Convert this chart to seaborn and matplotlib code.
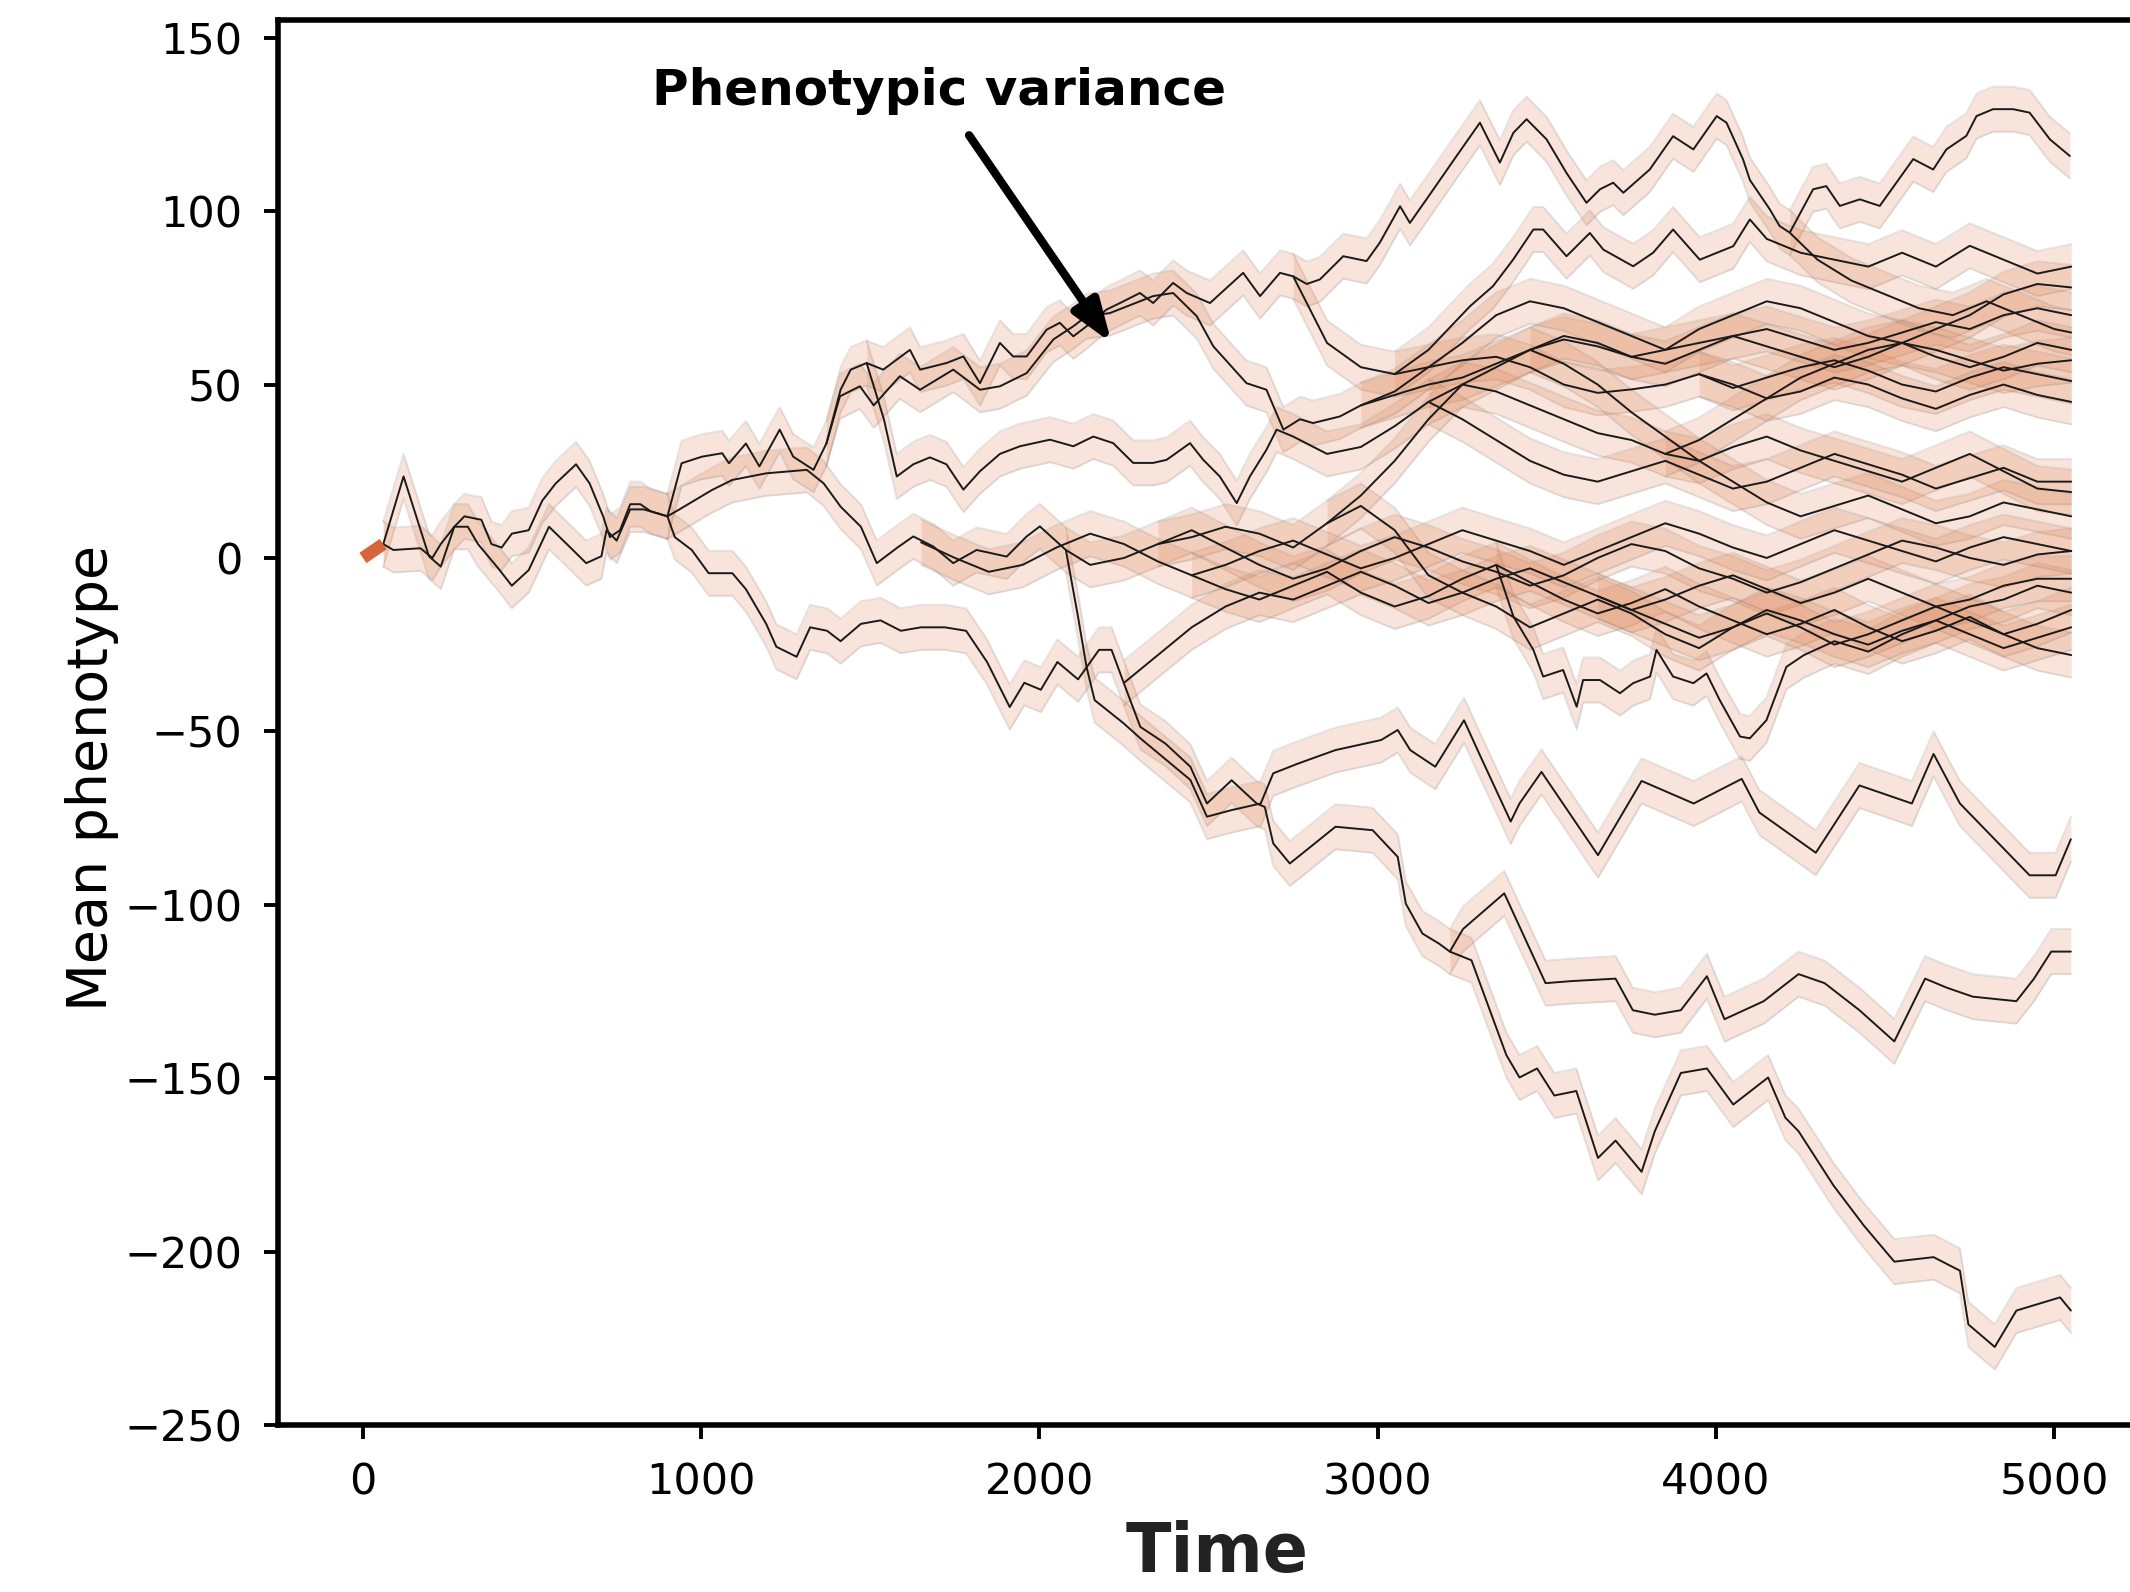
import numpy as np
import pandas as pd
import matplotlib
matplotlib.use('Agg')
import matplotlib.pyplot as plt
import seaborn as sns

# lineages of mean phenotype through time
# explicit (time, value) lists for lineages with sharp features
root_t = [0, 30, 60]
root_v = [0, 2, 4]

a_t = [60, 120, 195, 230, 270, 300, 350, 380, 410, 440, 490, 530, 570, 630, 670, 710, 730, 760, 790, 820, 850, 900]
a_v = [4, 23.5, 0.5, -2.5, 9, 12, 11, 4, 3, 7, 8, 16.5, 21.5, 27, 21.5, 12, 6, 8, 15.5, 15.5, 13.5, 12]

b_t = [60, 90, 170, 205, 230, 270, 310, 340, 370, 400, 440, 490, 550, 610, 660, 705, 720, 750, 790, 830, 900]
b_v = [4, 2.3, 2.8, 0, 4, 9, 9, 4, 0.5, -3, -8, -3.5, 9, 3.3, -1.5, 0.5, 8, 5, 14, 14, 12]

low_t = [900, 922, 972, 1022, 1092, 1132, 1192, 1222, 1282, 1322, 1372, 1412, 1472, 1530, 1590, 1650, 1720,
         1783, 1845, 1912, 1955, 2004, 2053, 2114, 2176, 2213, 2249, 2298, 2372, 2446, 2495, 2568, 2642, 2666,
         2691, 2740, 2814, 2875, 2985, 3059, 3083, 3132, 3181, 3213, 3252, 3374, 3496, 3574, 3703, 3754, 3819,
         3896, 3973, 4025, 4141, 4244, 4321, 4424, 4527, 4618, 4682, 4759, 4888, 4940, 4991, 5049]
low_v = [12, 6, 2.3, -4.4, -4.4, -9, -19, -25.6, -28.5, -20, -21, -24, -19, -18, -21, -20, -20,
         -21, -30, -43, -36, -38, -30, -35, -26.5, -26.5, -36, -48.7, -53.5, -60.2, -70.8, -64.1, -70.8, -71.8,
         -82.3, -88.1, -82.3, -77.5, -78.5, -86.2, -99.7, -108.3, -111.2, -113.5, -107, -96.7, -122.6, -122,
         -121.3, -130.4, -131.7, -130.4, -120.6, -133, -127.8, -120, -122.6, -130.4, -139.4, -121.3, -123.9,
         -126.5, -127.8, -121.3, -113.5, -113.5]

deep_t = [3213, 3277, 3380, 3419, 3471, 3522, 3587, 3651, 3703, 3780, 3819, 3896, 3973, 4051, 4154, 4205,
          4244, 4347, 4437, 4527, 4643, 4721, 4746, 4824, 4888, 5017, 5049]
deep_v = [-113.5, -116, -143.3, -149.8, -147.2, -155, -153.7, -173, -168, -177, -165.3, -148.5, -147.2,
          -157.6, -149.8, -161.4, -165.3, -180.9, -192.5, -202.9, -201.6, -205.5, -221, -227.5, -217, -213.2, -217]

d_t = [2078, 2114, 2139, 2163, 2249, 2298, 2372, 2446, 2495, 2568, 2654, 2691, 2764, 2875, 3010, 3059, 3096,
       3170, 3255, 3304, 3393, 3419, 3484, 3651, 3780, 3934, 4076, 4128, 4295, 4424, 4579, 4643, 4721, 4927,
       5004, 5049]
d_v = [2.3, -17, -31.4, -41, -47.7, -52, -58, -64, -74.6, -72.7, -70.8, -62.1, -59.3, -55.4, -52.5, -49.6,
       -55.4, -60.2, -46.8, -57.3, -76, -70.8, -61.7, -85.7, -64.3, -70.8, -63.7, -73.4, -85, -65.6, -70.8,
       -56.5, -70.8, -91.5, -91.5, -81.1]

mid_t = [900, 932, 1032, 1092, 1192, 1312, 1362, 1412, 1472, 1519, 1580, 1627, 1686, 1745, 1814, 1903, 1962,
         2001, 2078]
mid_v = [12, 13.8, 19.6, 22.5, 24.4, 25.4, 21.5, 14.8, 9, -1.5, 3, 6.2, 3.3, -1.5, 2.3, 0.4, 6.2, 9.1, 2.3]
mid_late = [-2, 0, 4, 8, 3, -2, -6, -3, 2, 6, 3, -1, -4, -8, -5, 0, 4, 2, -3, -6,
            -10, -7, -3, 1, 5, 3, 0, -2, 1, 2]          # every 100 from 2150

up1_t = [900, 942, 1002, 1062, 1082, 1132, 1172, 1232, 1272, 1332, 1370, 1412, 1442, 1489, 1538, 1617, 1647,
         1725, 1775, 1824, 1883, 1922, 1962, 2021, 2060, 2100, 2139, 2198, 2238, 2297, 2336, 2395, 2435, 2504,
         2602, 2652, 2711, 2750]
up1_v = [12, 27.3, 29.2, 30.2, 27.3, 33, 26.4, 37, 29.2, 25.4, 33, 48.5, 54.3, 56.2, 54.3, 60, 54.3,
         56.2, 58.1, 50.4, 62, 58.1, 58.1, 65.8, 67.8, 63.9, 66.8, 71.6, 73.5, 76.4, 73.5, 79.3, 76.4, 73.5,
         82.2, 75.5, 82.2, 81.2]
up1_late = [62, 55, 53, 55, 57, 58, 55, 50, 47.6, 48.6, 50, 53, 49, 52, 55, 57, 54, 50, 48, 52,
            55, 53, 51]                                    # every 100 from 2850

up2_t = [1370, 1410, 1469, 1510, 1587, 1647, 1745, 1824, 1883, 1962, 2041, 2100, 2139, 2208, 2336, 2395,
         2465, 2514, 2612, 2671, 2721, 2770, 2809, 2888]
up2_v = [33, 46.6, 49.5, 44, 52.4, 48.5, 54.3, 48.5, 49.5, 53.3, 63, 66.8, 69.7, 70.6, 75.5, 76.4,
         69.7, 61, 50.4, 48.5, 37, 40, 38.9, 40.8]
up2_late = [44, 47, 50, 52, 56, 60, 63, 61, 58, 60, 62, 64, 66, 63, 60, 62, 65, 68, 66, 70, 72, 70]  # from 2950

u3_t = [1489, 1540, 1578, 1627, 1676, 1725, 1775, 1824, 1883, 1942, 2031, 2100, 2159, 2218, 2277, 2336,
        2376, 2445, 2484, 2533, 2583, 2622, 2671, 2701, 2750]
u3_v = [56.2, 40, 23.5, 27, 29, 27, 19.7, 25, 30, 32.2, 34.1, 32.2, 35, 33.1, 27.4, 27.4,
        28.3, 33.1, 28.3, 23.5, 15.8, 23.5, 31.2, 37, 35]
u3_late = [30, 32, 38, 45, 50, 48, 44, 40, 36, 34, 30, 28, 32, 35, 31, 28, 25, 22, 26, 30,
           25, 20, 19]                                     # from 2850

top_t = [2750, 2790, 2829, 2898, 2967, 3006, 3066, 3095, 3144, 3233, 3302, 3361, 3401, 3440, 3499, 3558,
         3617, 3657, 3696, 3726, 3804, 3873, 3933, 4002, 4031, 4080, 4100, 4159, 4188, 4218, 4300, 4400,
         4500, 4600, 4700, 4800, 4900, 5000, 5050]
top_v = [81.2, 79, 80.3, 87, 85.6, 90.9, 101.4, 96.6, 103.4, 115.9, 125.5, 114, 122.6, 126.5, 120.7, 111,
         102.4, 106.3, 108.2, 105.3, 112, 121.6, 117.8, 127.4, 125.5, 114.9, 109, 100.5, 95.7, 93.8, 86, 80,
         76, 72, 70, 74, 70, 66, 65]

hi_t = [4218, 4287, 4326, 4366, 4425, 4484, 4583, 4642, 4681, 4740, 4770, 4819, 4878, 4927, 4987, 5046]
hi_v = [93.8, 106.3, 107.2, 101.5, 103.4, 101.5, 115, 112, 117.8, 121.7, 127.4, 129.4, 129.4, 128.4,
        120.7, 115.9]

u2_t = [3050, 3150, 3273, 3341, 3400, 3460, 3489, 3558, 3627, 3667, 3755, 3814, 3873, 3952, 4051, 4100,
        4150, 4250, 4350, 4450, 4550, 4650, 4750, 4850, 4950, 5050]
u2_v = [53, 60, 72.6, 78.4, 86, 94.7, 94.7, 87, 93.7, 88.9, 84.1, 88, 94.7, 86, 89.9, 97.6,
        92, 88, 86, 84, 88, 84, 90, 86, 82, 84]

zd_t = [3350, 3401, 3460, 3489, 3548, 3588, 3607, 3657, 3716, 3755, 3805, 3824, 3873, 3933, 3972, 4011,
        4071, 4100, 4149, 4208, 4260, 4350, 4450, 4550, 4650, 4750, 4850, 4950, 5050]
zd_v = [-2, -16.9, -26.5, -34.2, -32.3, -42.9, -35.2, -35.2, -39, -36.1, -34.2, -26.5, -34.2, -36.1, -33.3,
        -41, -51.5, -52, -46.8, -31.4, -28, -24, -27, -22, -18, -14, -12, -8, -10]

# lineages sampled every 100 time units: (start time, values)
u4_start, u4_v = 2950, [44, 48, 55, 62, 70, 74, 72, 68, 64, 60, 66, 70, 74, 72, 68, 64, 62, 66, 70, 76, 79, 78]
u5_start, u5_v = 2850, [10, 18, 28, 40, 50, 55, 60, 64, 62, 58, 56, 60, 64, 61, 58, 55, 58, 62, 60, 57,
                        54, 56, 57]
u6_start, u6_v = 3450, [60, 56, 50, 42, 35, 28, 22, 16, 12, 15, 18, 14, 10, 12, 16, 14, 12]
u7_start, u7_v = 3850, [30, 34, 40, 46, 52, 56, 60, 62, 58, 55, 58, 62, 60]
u8_start, u8_v = 3950, [53, 50, 46, 48, 52, 50, 46, 43, 47, 50, 47, 45]
zh_start, zh_v = 3150, [45, 40, 34, 28, 24, 22, 25, 28, 24, 20, 22, 26, 30, 27, 24, 20, 23, 26, 22, 22]
za_start, za_v = 1650, [4.5, 0, -4, -2, 3, 7, 4, -1, -5, -9, -12, -8, -4, -10, -14, -11, -6, -2, -7, -12,
                        -16, -13, -9, -14, -18, -22, -19, -15, -20, -24, -21, -17, -22, -26, -28]
zb_start, zb_v = 2250, [-36, -28, -20, -14, -10, -12, -8, -4, -8, -13, -10, -6, -3, -7, -11, -15, -12, -8,
                        -5, -9, -13, -10, -6, -10, -14, -12, -8, -6, -6]
zc_start, zc_v = 2350, [4, 6, 9, 7, 3, 10, 15, 8, -5, -10, -14, -20, -16, -12, -16, -22, -26, -20, -15, -18,
                        -22, -25, -21, -18, -22, -26, -23, -20]
zf_start, zf_v = 2450, [-5, -2, 2, 5, 1, -3, 0, 4, 8, 5, 2, -2, 2, 6, 10, 7, 3, 0, 4, 8, 5, 2, -1, 3, 6, 4, 2]
zg_start, zg_v = 3650, [-11, -15, -19, -23, -20, -16, -20, -25, -22, -18, -14, -18, -22, -19, -15]

step = 100
half_width = 6.5   # phenotypic variance band


def grid(start, vals):
    return list(start + step * np.arange(len(vals))), vals


lineages = [
    (a_t, a_v), (b_t, b_v), (low_t, low_v), (deep_t, deep_v), (d_t, d_v),
    (mid_t + list(2150 + step * np.arange(len(mid_late))), mid_v + mid_late),
    (up1_t + list(2850 + step * np.arange(len(up1_late))), up1_v + up1_late),
    (up2_t + list(2950 + step * np.arange(len(up2_late))), up2_v + up2_late),
    (u3_t + list(2850 + step * np.arange(len(u3_late))), u3_v + u3_late),
    (top_t, top_v), (hi_t, hi_v), (u2_t, u2_v), (zd_t, zd_v),
    grid(u4_start, u4_v), grid(u5_start, u5_v), grid(u6_start, u6_v), grid(u7_start, u7_v),
    grid(u8_start, u8_v), grid(zh_start, zh_v), grid(za_start, za_v), grid(zb_start, zb_v),
    grid(zc_start, zc_v), grid(zf_start, zf_v), grid(zg_start, zg_v),
]

rows = []
for i, (t, v) in enumerate(lineages):
    for tt, vv in zip(t, v):
        rows.append((i, tt, vv))
df = pd.DataFrame(rows, columns=['lineage', 'time', 'phenotype'])

sns.set_style('ticks')
plt.rcParams['font.family'] = ['DejaVu Sans']

fig = plt.figure(figsize=(10.65, 7.96), dpi=200)
ax = fig.add_axes([0.1307, 0.1049, 0.8814, 0.8823])

band_col = '#E0875A'
for i, g in df.groupby('lineage'):
    t = g['time'].values
    v = g['phenotype'].values
    ax.fill_between(t, v - half_width, v + half_width, color=band_col, alpha=0.22, lw=0, zorder=1)
    ax.plot(t, v - half_width, color='gray', alpha=0.2, lw=0.7, zorder=1)
    ax.plot(t, v + half_width, color='gray', alpha=0.2, lw=0.7, zorder=1)

sns.lineplot(data=df, x='time', y='phenotype', units='lineage', estimator=None, sort=False,
             color='#1a1a1a', lw=0.7, ax=ax, zorder=3)
ax.plot(root_t, root_v, color='#D9643A', lw=4.5, solid_capstyle='butt', zorder=4)

ax.set_xlim(-250, 5300)
ax.set_ylim(-250, 155)
ax.set_xticks(range(0, 5001, 1000))
ax.set_yticks(range(-250, 151, 50))
ax.tick_params(labelsize=15.5, length=5, width=1.4, pad=8, color='black', labelcolor='black')
for s in ax.spines.values():
    s.set_linewidth(2)
    s.set_color('black')
ax.set_xlabel('Time', fontsize=24, fontweight='bold', labelpad=6, color='#222222')
ax.set_ylabel('Mean phenotype', fontsize=20, color='black')
ax.yaxis.set_label_coords(-0.085, 0.461)

ax.annotate('Phenotypic variance', xy=(2213, 62), xytext=(1703, 134.5), textcoords='data',
            fontsize=18, fontweight='bold', ha='center', va='center', color='black',
            arrowprops=dict(arrowstyle='-|>,head_length=0.7,head_width=0.25', lw=3, color='black',
                            shrinkA=6, shrinkB=0))

fig.savefig('out.png', dpi=200)
